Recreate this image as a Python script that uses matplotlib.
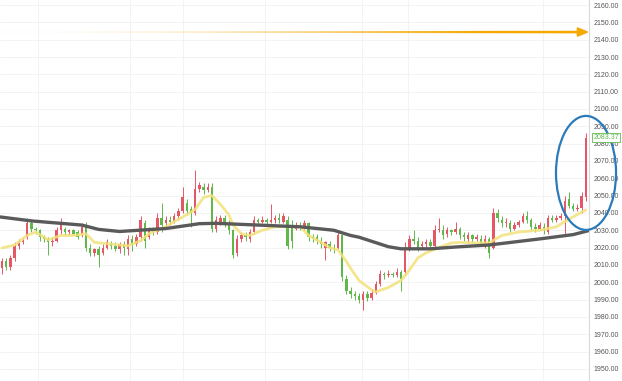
import matplotlib.pyplot as plt
import numpy as np
from matplotlib.patches import Ellipse, Polygon

plt.rcParams['font.family'] = ['Liberation Sans', 'DejaVu Sans']

# candle data (price), one entry per bar
opens = [2008, 2012, 2009, 2014, 2021, 2023, 2026, 2034, 2031, 2030,
         2026, 2025, 2023, 2024, 2030, 2031, 2029, 2030, 2029, 2027,
         2032, 2020, 2017, 2019, 2017, 2020, 2022, 2021, 2019, 2022,
         2019, 2025, 2022, 2026, 2034, 2026, 2030, 2029, 2037, 2034,
         2036, 2035, 2038, 2041, 2046, 2042, 2040, 2054, 2055, 2053,
         2055, 2031, 2035, 2037, 2034, 2030, 2017, 2025, 2027, 2025,
         2029, 2036, 2035, 2036, 2035, 2036, 2037, 2035, 2036, 2033,
         2031, 2033, 2032, 2034, 2026, 2026, 2024, 2020, 2022, 2020,
         2020, 2027, 2002, 1995, 1993, 1992, 1990, 1993, 1991, 1994,
         1999, 2005, 2004, 2005, 2004, 2006, 2006, 2020, 2025, 2024,
         2021, 2022, 2023, 2021, 2030, 2030, 2028, 2030, 2029, 2031,
         2027, 2025, 2027, 2025, 2025, 2022, 2025, 2020, 2040, 2036,
         2034, 2034, 2031, 2033, 2035, 2038, 2036, 2032, 2031, 2032,
         2029, 2037, 2036, 2037, 2038, 2048, 2044, 2042, 2043, 2049]
closes = [2012, 2009, 2014, 2021, 2023, 2024, 2034, 2031, 2030, 2026,
          2025, 2023, 2024, 2030, 2033, 2029, 2030, 2028, 2026, 2032,
          2020, 2017, 2019, 2016, 2020, 2023, 2021, 2019, 2022, 2020,
          2025, 2022, 2026, 2036, 2024, 2030, 2029, 2037, 2033, 2036,
          2035, 2038, 2041, 2049, 2041, 2040, 2054, 2056, 2053, 2055,
          2031, 2036, 2037, 2035, 2030, 2016, 2025, 2027, 2026, 2029,
          2036, 2035, 2036, 2035, 2036, 2037, 2036, 2038, 2021, 2024,
          2033, 2032, 2034, 2026, 2025, 2024, 2022, 2023, 2020, 2019,
          2027, 2003, 1995, 1993, 1992, 1990, 1993, 1991, 1994, 1999,
          2005, 2004, 2005, 2004, 2006, 2002, 2020, 2025, 2024, 2020,
          2022, 2023, 2021, 2030, 2031, 2027, 2030, 2029, 2031, 2027,
          2026, 2027, 2025, 2026, 2022, 2025, 2017, 2040, 2037, 2034,
          2035, 2031, 2033, 2035, 2038, 2036, 2032, 2031, 2033, 2030,
          2037, 2036, 2037, 2038, 2047, 2044, 2042, 2043, 2050, 2083.37]
highs = [2014, 2014, 2016, 2023, 2025, 2026, 2037, 2036, 2032, 2031,
         2027, 2026, 2026, 2032, 2037, 2032, 2031, 2031, 2030, 2034,
         2035, 2022, 2020, 2021, 2022, 2025, 2024, 2023, 2023, 2024,
         2027, 2027, 2028, 2038, 2036, 2032, 2032, 2040, 2046, 2038,
         2038, 2040, 2043, 2055, 2048, 2044, 2065, 2058, 2057, 2057,
         2057, 2038, 2039, 2039, 2036, 2031, 2027, 2029, 2029, 2031,
         2038, 2037, 2038, 2037, 2045, 2039, 2040, 2040, 2038, 2036,
         2035, 2035, 2036, 2035, 2028, 2028, 2026, 2024, 2024, 2022,
         2029, 2028, 2004, 1997, 1995, 1994, 1995, 1995, 1996, 2001,
         2007, 2006, 2007, 2006, 2008, 2007, 2023, 2027, 2030, 2026,
         2024, 2025, 2025, 2033, 2037, 2033, 2032, 2031, 2035, 2032,
         2029, 2029, 2028, 2028, 2027, 2027, 2026, 2043, 2042, 2038,
         2037, 2036, 2035, 2036, 2040, 2041, 2037, 2034, 2035, 2034,
         2039, 2039, 2039, 2040, 2050, 2052, 2046, 2045, 2052, 2086]
lows = [2005, 2007, 2007, 2012, 2019, 2022, 2025, 2029, 2028, 2024,
        2023, 2016, 2021, 2023, 2028, 2027, 2027, 2027, 2025, 2026,
        2018, 2015, 2015, 2009, 2016, 2019, 2019, 2018, 2017, 2016,
        2016, 2018, 2021, 2024, 2020, 2025, 2027, 2028, 2029, 2032,
        2033, 2034, 2036, 2040, 2039, 2032, 2039, 2052, 2051, 2052,
        2029, 2029, 2033, 2032, 2028, 2014, 2015, 2023, 2024, 2023,
        2028, 2033, 2034, 2033, 2034, 2034, 2034, 2034, 2019, 2020,
        2030, 2030, 2030, 2024, 2023, 2022, 2020, 2013, 2018, 2017,
        2019, 2001, 1993, 1991, 1990, 1988, 1984, 1989, 1990, 1993,
        1998, 2002, 2003, 2003, 2003, 1995, 2004, 2018, 2022, 2018,
        2019, 2020, 2019, 2020, 2029, 2025, 2026, 2027, 2028, 2025,
        2024, 2023, 2023, 2024, 2021, 2020, 2014, 2019, 2035, 2032,
        2032, 2029, 2030, 2032, 2034, 2034, 2030, 2029, 2030, 2028,
        2028, 2035, 2035, 2036, 2028, 2043, 2041, 2041, 2040, 2047]

# moving averages read at a few bars
fast_idx = [0, 3, 6, 8, 11, 14, 17, 20, 22, 26, 30, 33, 35, 39, 41, 44, 46, 48,
            50, 52, 54, 55, 57, 59, 62, 65, 69, 71, 73, 76, 78, 80, 82, 83, 85,
            88, 89, 92, 95, 97, 99, 101, 104, 107, 109, 114, 116, 119, 123,
            128, 132, 134, 136, 139]
fast_val = [2019.8, 2021.5, 2027, 2029, 2024.5, 2027, 2027, 2028, 2023, 2022,
            2021, 2024, 2028, 2032, 2035, 2039, 2042, 2049, 2050, 2045, 2039,
            2033, 2028, 2027, 2030, 2032, 2032, 2032, 2027, 2023, 2020, 2018.6,
            2012, 2008, 2001, 1995.6, 1994.4, 1997, 2001, 2007, 2014, 2017,
            2020, 2022.7, 2023, 2022.7, 2022.7, 2027, 2029, 2030, 2032, 2035,
            2037.8, 2041.7]
slow_idx = [-0.5, 7, 19, 23, 28, 39, 47, 51, 55, 71, 79, 83, 85, 92, 95, 102,
            109, 116, 128, 136, 140]
slow_val = [2037.7, 2035.4, 2033, 2030.5, 2029.3, 2031, 2033.8, 2034, 2033.6,
            2032, 2030, 2027, 2026, 2020.5, 2019.3, 2019.3, 2020.5, 2021.5,
            2025, 2027.5, 2030]

yticks = np.arange(1950, 2161, 10)
target_level = 2144.4

up_col = '#e45866'
dn_col = '#5fb94a'

fig = plt.figure(figsize=(6.22, 3.81), dpi=100)
ax = fig.add_axes([0, 0, 589 / 622, 1])

o = np.array(opens, float)
c = np.array(closes, float)
h = np.array(highs, float)
l = np.array(lows, float)
x = np.arange(len(c))
cols = np.where(c >= o, up_col, dn_col)

# grid
for v in yticks:
    ax.axhline(v, color='#f1f1f1', lw=0.6, zorder=0)
for gx in [8.5, 30.5, 43, 62.5, 85.7, 96.7, 128.8]:
    ax.axvline(gx, color='#f1f1f1', lw=0.6, zorder=0)

ax.vlines(x, l, h, colors=cols, lw=0.7, zorder=2)
ax.bar(x, np.maximum(np.abs(c - o), 0.4), bottom=np.minimum(o, c),
       width=0.6, color=cols, zorder=3)

ax.plot(fast_idx, fast_val, color='#f3e27a', lw=2, alpha=0.85, zorder=4,
        solid_capstyle='round')
ax.plot(slow_idx, slow_val, color='#5a5a5a', lw=2.4, zorder=5)

# fading, tapered arrow towards the target
x0, x1 = -0.5, 137.2
grad = np.zeros((1, 256, 4))
grad[..., 0], grad[..., 1], grad[..., 2] = 0.96, 0.66, 0.0
grad[..., 3] = np.clip(np.linspace(0, 1, 256) ** 1.5 * 1.3, 0.03, 1)
shaft = Polygon([(x0, target_level + 0.25), (x1, target_level + 0.75),
                 (x1, target_level - 0.75), (x0, target_level - 0.25)],
                closed=True, transform=ax.transData, visible=False)
ax.add_patch(shaft)
img = ax.imshow(grad, extent=(x0, x1, target_level - 1, target_level + 1),
                aspect='auto', interpolation='bilinear', zorder=6)
img.set_clip_path(shaft)
ax.add_patch(Polygon([(137.0, target_level + 2.4), (139.4, target_level),
                      (137.0, target_level - 2.4)], closed=True,
                     color='#f5a800', zorder=6, clip_on=False))

# highlight ellipse
ax.add_patch(Ellipse((139.05, 2063.1), 14.3, 65.8, fill=False,
                     edgecolor='#2b7bba', lw=1.6, zorder=7, clip_on=False))

ax.set_xlim(-0.476, 139.76)
ax.set_ylim(1943.0, 2162.9)
ax.yaxis.tick_right()
ax.set_yticks(yticks)
ax.set_yticklabels([f'{v:.2f}' for v in yticks])
ax.tick_params(axis='y', length=0, pad=3, labelsize=5, labelcolor='#555555')
ax.set_xticks([])
for s in ['top', 'left', 'bottom']:
    ax.spines[s].set_visible(False)
ax.spines['right'].set_color('#d8d8d8')
ax.spines['right'].set_linewidth(0.8)

ax.annotate(f'{closes[-1]:.2f}', xy=(1.0, closes[-1]), xycoords=('axes fraction', 'data'),
            xytext=(3, 0), textcoords='offset points', fontsize=5, color=dn_col,
            va='center', ha='left', zorder=8, annotation_clip=False,
            bbox=dict(boxstyle='square,pad=0.15', fc='white', ec=dn_col, lw=0.6))

fig.savefig('out.png', dpi=100)
